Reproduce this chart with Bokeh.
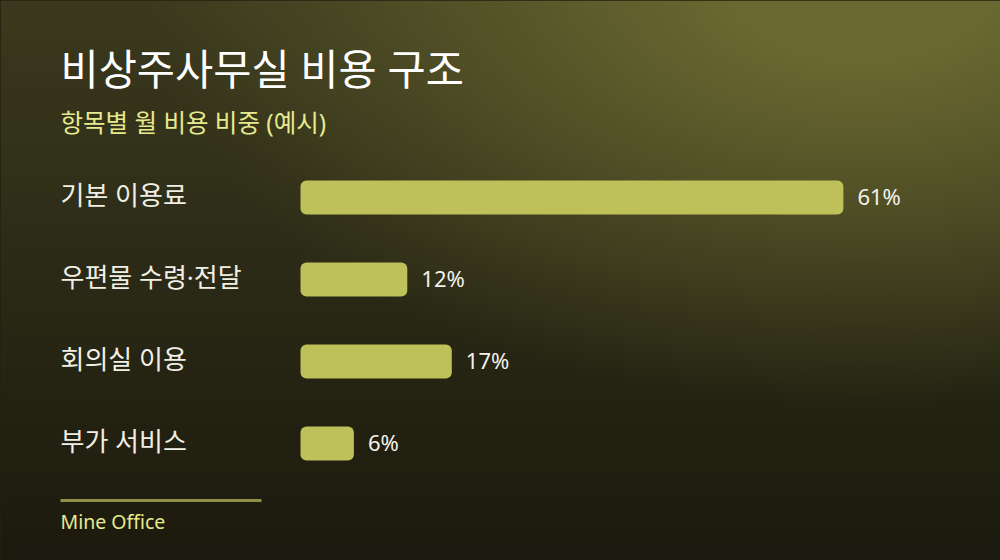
import numpy as np
from bokeh.plotting import figure
from bokeh.models import Range1d, Label, BoxAnnotation, ColumnDataSource
from bokeh.core.properties import value
from bokeh.embed import file_html
from bokeh.resources import INLINE

# ---- data ----
categories = ["기본 이용료", "우편물 수령·전달", "회의실 이용", "부가 서비스"]
shares = [61, 12, 17, 6]
share_labels = ["61%", "12%", "17%", "6%"]
title_text = "비상주사무실 비용 구조"
subtitle_text = "항목별 월 비용 비중 (예시)"
footer_text = "Mine Office"

FONT = "Noto Sans, Noto Sans CJK KR"

# ---- layout constants (pixels) ----
W, H = 1000, 560
BAR_X0 = 300.0        # pixel where 0% sits
PX_PER_UNIT = 8.9     # pixels per percent
FIRST_CENTER = 197.0  # pixel (from top) of first bar center
STEP = 82.0           # pixels between bar centers
BAR_H = 34.0
LABEL_X = 60.0

n = len(categories)
x_start = -BAR_X0 / PX_PER_UNIT
x_end = (W - BAR_X0) / PX_PER_UNIT
last_center = FIRST_CENTER + STEP * (n - 1)
y_end = last_center / STEP
y_start = (last_center - H) / STEP

p = figure(width=W, height=H, x_range=Range1d(x_start, x_end),
           y_range=Range1d(y_start, y_end), output_backend="svg",
           toolbar_location=None, min_border=0)
p.axis.visible = False
p.grid.visible = False
p.outline_line_color = None
p.background_fill_color = "#2a2915"
p.border_fill_color = "#2a2915"

# ---- background gradient ----
yy, xx = np.mgrid[0:H, 0:W].astype(float)
t = yy / H
top = np.array([0x3b, 0x3a, 0x1e], float)
bot = np.array([0x1b, 0x1a, 0x0e], float)
base = top[None, None, :] * (1 - t[..., None]) + bot[None, None, :] * t[..., None]
glow = np.array([0x6a, 0x69, 0x31], float)
d = np.sqrt(((xx - 860) / 720.0) ** 2 + ((yy + 20) / 430.0) ** 2)
f = np.clip(1 - d, 0, 1) ** 1.1
f = np.clip(f * 1.25, 0, 1)
rgb = base * (1 - f[..., None]) + glow[None, None, :] * f[..., None]
img = np.empty((H, W, 4), dtype=np.uint8)
img[..., :3] = np.clip(rgb, 0, 255).astype(np.uint8)
img[..., 3] = 255
img = img[::-1].copy()
p.image_rgba(image=[img.view(dtype=np.uint32).reshape(H, W)], x=x_start, y=y_start,
             dw=x_end - x_start, dh=y_end - y_start)

# ---- bars ----
ypos = [n - 1 - i for i in range(n)]
src = ColumnDataSource(dict(cat=categories, val=shares, lab=share_labels, y=ypos,
                            labx=[LABEL_X / PX_PER_UNIT + x_start] * n,
                            valx=[v + 14 / PX_PER_UNIT for v in shares]))
p.hbar(y="y", left=0, right="val", height=BAR_H / STEP, source=src,
       fill_color="#bec05a", line_color=None, border_radius=6)

p.text(x="labx", y="y", text="cat", source=src, text_font=value(FONT),
       text_font_size="26px", text_color="#f1efe4", text_baseline="middle",
       text_align="left", y_offset=-3)
p.text(x="valx", y="y", text="lab", source=src, text_font=value(FONT),
       text_font_size="22px", text_color="#f4f2ea", text_baseline="middle",
       text_align="left", y_offset=-2)

# ---- titles ----
p.add_layout(Label(x=60, y=H - 68, x_units="screen", y_units="screen", text=title_text,
                   text_font=FONT, text_font_size="41.5px",
                   text_color="#ffffff", text_baseline="middle"))
p.add_layout(Label(x=60, y=H - 122, x_units="screen", y_units="screen", text=subtitle_text,
                   text_font=FONT, text_font_size="24.5px",
                   text_color="#e7e98f", text_baseline="middle"))

# ---- footer ----
p.add_layout(BoxAnnotation(left=60, right=261, bottom=H - 501.5, top=H - 498.5,
                           left_units="screen", right_units="screen",
                           bottom_units="screen", top_units="screen",
                           fill_color="#8f8f45", fill_alpha=1, line_color=None))
p.add_layout(Label(x=60, y=H - 521, x_units="screen", y_units="screen", text=footer_text,
                   text_font=FONT, text_font_size="19.5px",
                   text_color="#e7e98f", text_baseline="middle"))

html = file_html(p, INLINE)
html = html.replace("<head>", "<head><style>html,body{margin:0;padding:0;overflow:hidden;background:#1b1a0e;}</style>", 1)
open("out.html", "w").write(html)
